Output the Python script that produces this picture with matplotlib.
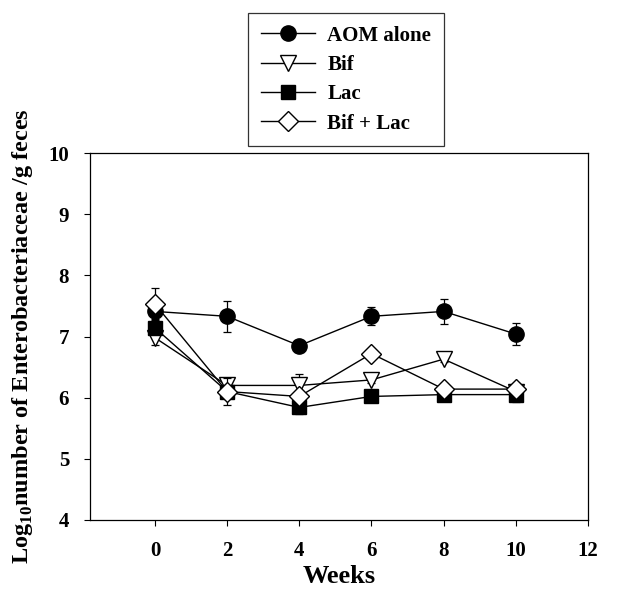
import matplotlib.pyplot as plt

weeks = [0, 2, 4, 6, 8, 10]
aom = [7.41, 7.33, 6.85, 7.33, 7.41, 7.04]
aom_err = [0.12, 0.25, 0.10, 0.15, 0.20, 0.18]
bif = [6.98, 6.20, 6.20, 6.29, 6.63, 6.10]
bif_err = [0.12, 0.10, 0.19, 0.05, 0.05, 0.08]
lac = [7.14, 6.10, 5.84, 6.02, 6.05, 6.05]
lac_err = [0.10, 0.10, 0.10, 0.05, 0.05, 0.12]
biflac = [7.53, 6.10, 6.02, 6.72, 6.14, 6.14]
biflac_err = [0.26, 0.22, 0.05, 0.05, 0.10, 0.10]

plt.rcParams['font.family'] = ['Liberation Serif', 'DejaVu Serif']
plt.rcParams['font.weight'] = 'bold'
plt.rcParams['mathtext.fontset'] = 'custom'
plt.rcParams['mathtext.rm'] = 'Liberation Serif:bold'
plt.rcParams['mathtext.bf'] = 'Liberation Serif:bold'

fig = plt.figure(figsize=(6.28, 5.94), dpi=100)
ax = fig.add_axes([0.1433, 0.1246, 0.793, 0.6178])

common = dict(color='black', lw=1.0, capsize=3, elinewidth=0.9, capthick=0.9)
ax.errorbar(weeks, aom, yerr=aom_err, marker='o', ms=11, mfc='black', mec='black',
            label='AOM alone', zorder=4, **common)
ax.errorbar(weeks, bif, yerr=bif_err, marker='v', ms=11, mfc='white', mec='black',
            label='Bif', zorder=3, **common)
ax.errorbar(weeks, lac, yerr=lac_err, marker='s', ms=9.5, mfc='black', mec='black',
            label='Lac', zorder=3, **common)
ax.errorbar(weeks, biflac, yerr=biflac_err, marker='D', ms=10, mfc='white', mec='black',
            label='Bif + Lac', zorder=5, **common)

ax.set_xlim(-1.8, 12)
ax.set_ylim(4, 10)
ax.set_xticks(range(0, 13, 2))
ax.set_yticks(range(4, 11))
ax.tick_params(direction='out', length=4, width=0.8, labelsize=15, pad=11)
for lbl in ax.get_xticklabels() + ax.get_yticklabels():
    lbl.set_fontweight('bold')
for s in ax.spines.values():
    s.set_linewidth(0.9)

ax.set_xlabel('Weeks', fontsize=19, fontweight='bold', labelpad=3)
ax.set_ylabel(r'Log$_{\rm 10}$number of Enterobacteriaceae /g feces',
              fontsize=17.5, fontweight='bold', labelpad=10)

handles, labels = ax.get_legend_handles_labels()
handles = [h[0] for h in handles]
leg = fig.legend(handles, labels, loc='upper left', bbox_to_anchor=(0.395, 0.978),
                 borderaxespad=0, frameon=True, fancybox=False, edgecolor='black',
                 prop={'weight': 'bold', 'size': 15}, handlelength=2.6,
                 borderpad=0.6, labelspacing=0.45, handletextpad=0.6)
leg.get_frame().set_linewidth(0.9)

fig.savefig('out.png', dpi=100)
